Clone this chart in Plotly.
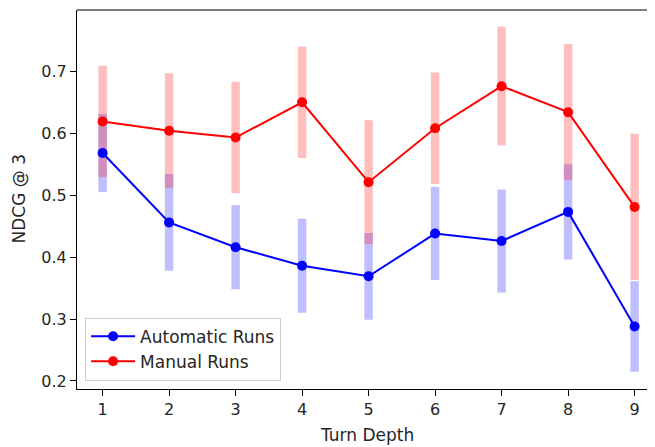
import plotly.graph_objects as go

turn_depth = [1, 2, 3, 4, 5, 6, 7, 8, 9]
auto_mean = [0.568, 0.456, 0.416, 0.386, 0.369, 0.438, 0.426, 0.473, 0.288]
auto_err = [0.063, 0.078, 0.068, 0.076, 0.070, 0.075, 0.083, 0.077, 0.073]
manual_mean = [0.619, 0.604, 0.593, 0.650, 0.521, 0.608, 0.676, 0.634, 0.481]
manual_err = [0.090, 0.093, 0.090, 0.090, 0.100, 0.090, 0.096, 0.110, 0.118]

FONT = "DejaVu Sans, sans-serif"
TXT = "#262626"
FS = 17

fig = go.Figure()

# error bars first (blue then red), lines on top
for mean, err, col in [(auto_mean, auto_err, "rgba(0,0,255,0.25)"),
                       (manual_mean, manual_err, "rgba(255,0,0,0.25)")]:
    fig.add_trace(go.Scatter(
        x=turn_depth, y=mean, mode="markers",
        marker=dict(size=1, opacity=0),
        error_y=dict(type="data", array=err, visible=True,
                     color=col, thickness=8.5, width=0),
        showlegend=False, hoverinfo="skip"))

fig.add_trace(go.Scatter(x=turn_depth, y=auto_mean, mode="lines+markers",
                         name="Automatic Runs",
                         line=dict(color="#0000ff", width=2),
                         marker=dict(color="#0000ff", size=10)))
fig.add_trace(go.Scatter(x=turn_depth, y=manual_mean, mode="lines+markers",
                         name="Manual Runs",
                         line=dict(color="#ff0000", width=2),
                         marker=dict(color="#ff0000", size=10)))

# page body has an 8px default margin: figure is 647x439 placed at (8, 8)
fig.update_layout(
    width=647, height=439,
    margin=dict(l=69, r=0, t=2, b=58, autoexpand=False),
    paper_bgcolor="white", plot_bgcolor="white",
    font=dict(family=FONT, size=FS, color=TXT),
    legend=dict(x=0.014, y=0.022, xanchor="left", yanchor="bottom",
                bgcolor="rgba(255,255,255,0.8)", bordercolor="#cccccc",
                borderwidth=1, font=dict(size=FS, color=TXT),
                itemwidth=44, tracegroupgap=0),
    xaxis=dict(range=[0.615, 9.307], tickmode="array", tickvals=turn_depth,
               ticktext=[str(v) for v in turn_depth], automargin=False,
               showgrid=False, zeroline=False, showline=True,
               linecolor="black", linewidth=1, ticks="outside",
               ticklen=6, tickcolor="black",
               tickfont=dict(size=FS - 1, color=TXT)),
    yaxis=dict(range=[0.187, 0.799], tickmode="array",
               tickvals=[0.2, 0.3, 0.4, 0.5, 0.6, 0.7],
               ticktext=["0.2", "0.3", "0.4", "0.5", "0.6", "0.7"],
               automargin=False,
               showgrid=False, zeroline=False, showline=True,
               linecolor="black", linewidth=1, ticks="outside",
               ticklen=6, tickcolor="black",
               tickfont=dict(size=FS - 1, color=TXT)),
    shapes=[dict(type="line", xref="paper", yref="paper", x0=0, x1=1,
                 y0=1, y1=1, line=dict(color="black", width=1))],
    annotations=[
        dict(text="Turn Depth", xref="paper", yref="paper", x=0.5, y=0,
             xanchor="center", yanchor="middle", showarrow=False,
             yshift=-46, xshift=1,
             font=dict(size=FS, color=TXT)),
        dict(text="NDCG @ 3", xref="paper", yref="paper", x=0, y=0.5,
             xanchor="center", yanchor="middle", showarrow=False,
             textangle=-90, xshift=-59,
             font=dict(size=FS, color=TXT)),
    ],
)

fig.write_html("out.html")
